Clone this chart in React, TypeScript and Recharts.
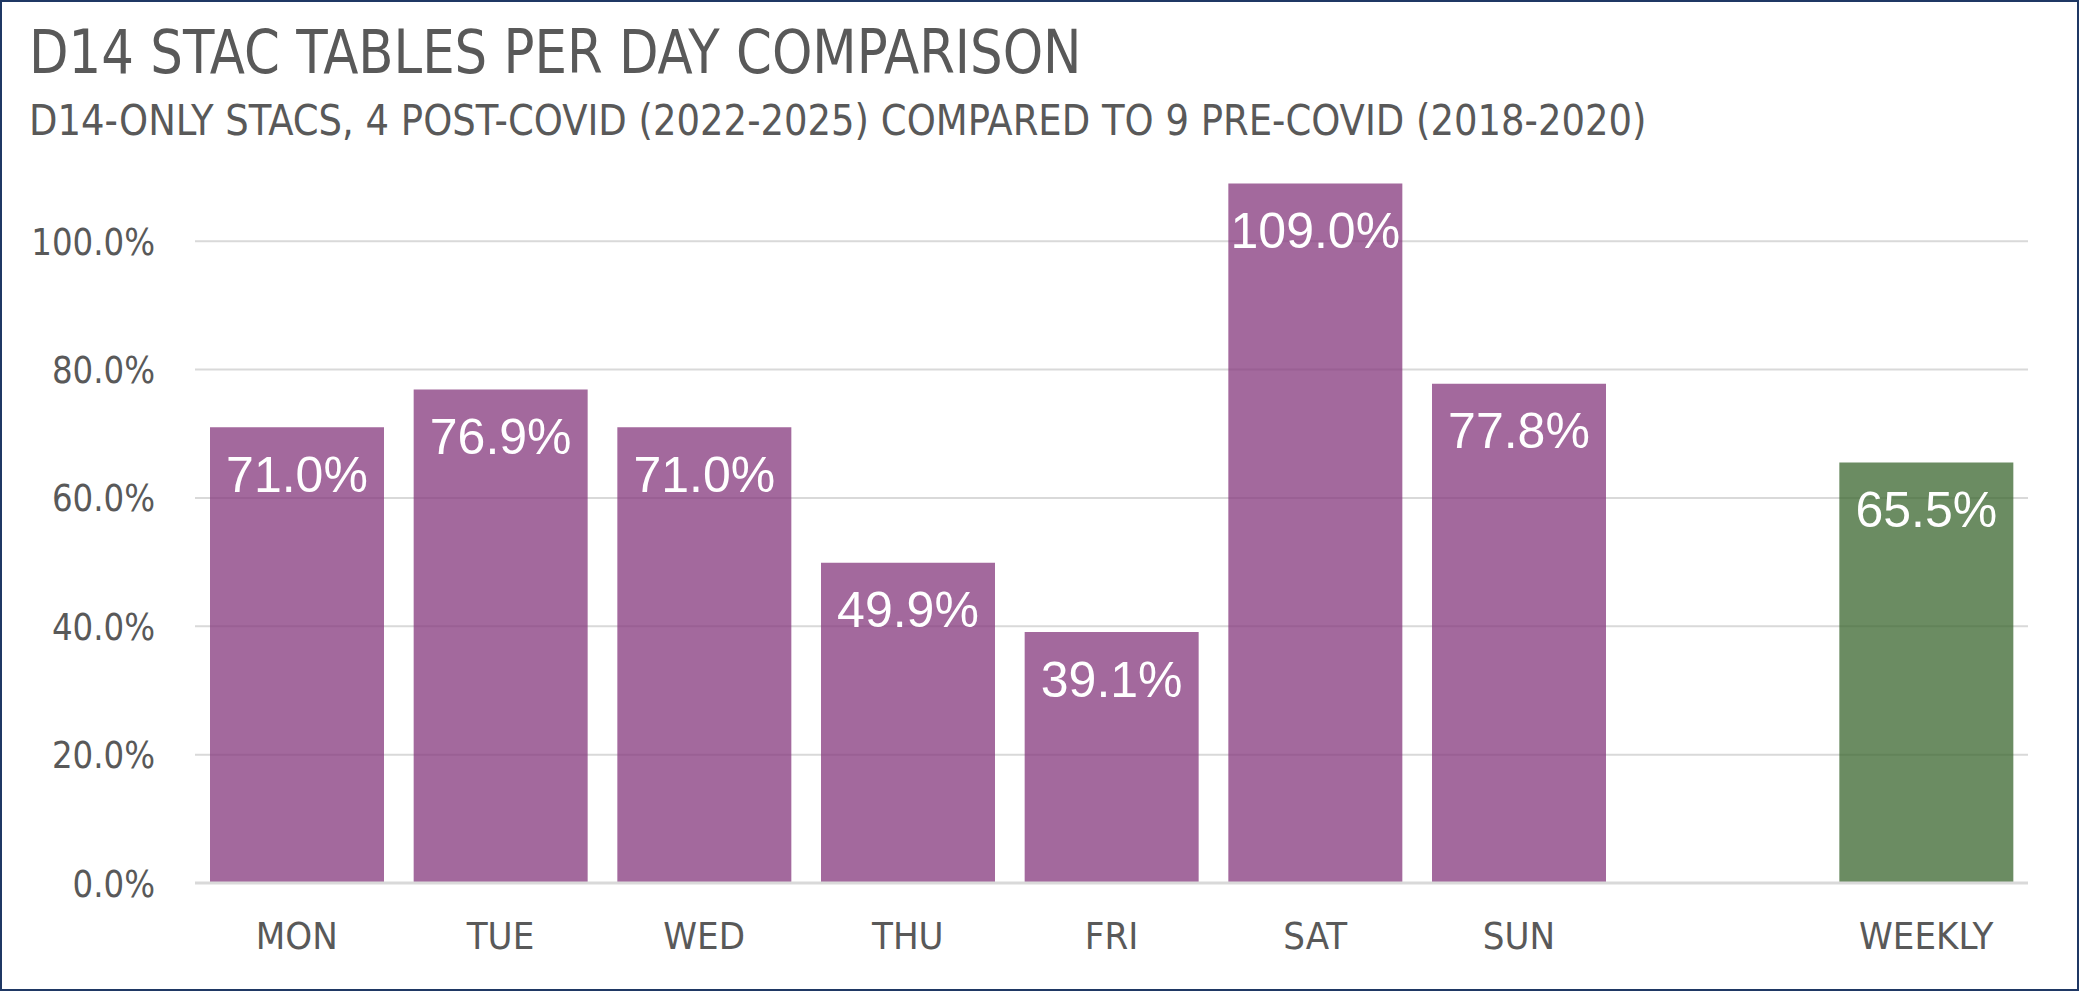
import { BarChart, Bar, XAxis, YAxis, CartesianGrid, Cell, LabelList } from "recharts";

const days = ["MON", "TUE", "WED", "THU", "FRI", "SAT", "SUN", "", "WEEKLY"];
const ratios: (number | null)[] = [0.71, 0.769, 0.71, 0.499, 0.391, 1.09, 0.778, null, 0.655];
const yTicks = [0, 0.2, 0.4, 0.6, 0.8, 1.0];

const dayColor = "#84377C";
const weeklyColor = "#3A662E";
const narrow = "'Liberation Sans Narrow', 'DejaVu Sans Condensed', sans-serif";

const W = 2079;
const H = 991;

const pct = (v: unknown) => (v == null || v === "" ? "" : `${(Number(v) * 100).toFixed(1)}%`);

// y tick squeezed a bit so the condensed font reads closer to the original narrow face
const YTick = (props: any) => {
  const { x, y, payload } = props;
  return (
    <text
      transform={`translate(${x},${y}) scale(0.95,1)`}
      textAnchor="end"
      dy="0.355em"
      fill="#595959"
      fontSize={38}
      fontFamily={narrow}
    >
      {`${(payload.value * 100).toFixed(1)}%`}
    </text>
  );
};

export default function App() {
  const rows = days.map((day, i) => ({ day, value: ratios[i] }));

  return (
    <div style={{ position: "relative", width: W, height: H, background: "#fff", overflow: "hidden" }}>
      <style>{"body{margin:0}"}</style>
      <BarChart
        width={W}
        height={H}
        data={rows}
        margin={{ top: 177, right: 51, bottom: 0, left: 0 }}
        barSize={174}
        style={{ position: "absolute", left: 0, top: 0 }}
      >
        <CartesianGrid vertical={false} horizontalValues={yTicks} stroke="#D9D9D9" strokeWidth={2} />
        <XAxis
          dataKey="day"
          height={108}
          tickLine={false}
          axisLine={{ stroke: "#D9D9D9", strokeWidth: 3 }}
          tickMargin={33}
          tick={{ fill: "#595959", fontSize: 38, fontFamily: narrow }}
          interval={0}
        />
        <YAxis
          width={195}
          domain={[0, 1.1]}
          ticks={yTicks}
          allowDataOverflow
          axisLine={false}
          tickLine={false}
          tickSize={0}
          tickMargin={40}
          tick={<YTick />}
        />
        <Bar dataKey="value" isAnimationActive={false} fillOpacity={0.75}>
          {rows.map((r) => (
            <Cell key={r.day || "gap"} fill={r.day === "WEEKLY" ? weeklyColor : dayColor} />
          ))}
          <LabelList
            dataKey="value"
            position="insideTop"
            offset={29}
            formatter={pct}
            fill="#FFFFFF"
            fontSize={50}
            fontFamily="'Liberation Sans', Arial, sans-serif"
          />
        </Bar>
      </BarChart>
      <div
        style={{
          position: "absolute",
          left: 29,
          top: 16,
          fontFamily: narrow,
          fontSize: 60,
          color: "#595959",
          whiteSpace: "nowrap",
          lineHeight: 1.2,
          transform: "scaleX(0.952)",
          transformOrigin: "left top",
        }}
      >
        D14 STAC TABLES PER DAY COMPARISON
      </div>
      <div
        style={{
          position: "absolute",
          left: 29,
          top: 96,
          fontFamily: narrow,
          fontSize: 42,
          color: "#595959",
          whiteSpace: "nowrap",
          lineHeight: 1.2,
          transform: "scaleX(0.979)",
          transformOrigin: "left top",
        }}
      >
        D14-ONLY STACS, 4 POST-COVID (2022-2025) COMPARED TO 9 PRE-COVID (2018-2020)
      </div>
      <div
        style={{
          position: "absolute",
          inset: 0,
          border: "2px solid #1F3864",
          boxSizing: "border-box",
          pointerEvents: "none",
        }}
      />
    </div>
  );
}
